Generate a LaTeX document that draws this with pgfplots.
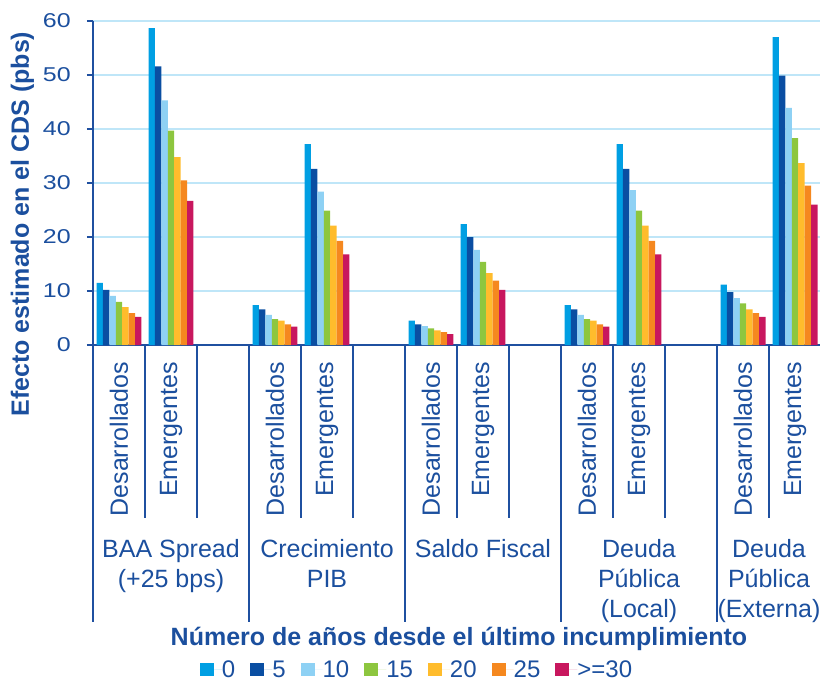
\documentclass[border=0pt]{standalone}
\usepackage{fontspec}
\setmainfont{Liberation Sans}
\newfontfamily\tickfont{Liberation Sans}[FakeStretch=1.25]
\usepackage{pgfplots}
\usepackage{pgfplotstable}
\pgfplotsset{compat=1.18}

\definecolor{cA}{HTML}{009FE3}
\definecolor{cB}{HTML}{0A4EA2}
\definecolor{cC}{HTML}{8ED1F4}
\definecolor{cD}{HTML}{8DC63F}
\definecolor{cE}{HTML}{FFBC2C}
\definecolor{cF}{HTML}{F5881F}
\definecolor{cG}{HTML}{C8175E}
\definecolor{txtblue}{HTML}{1B4F9E}
\definecolor{axblue}{HTML}{1F50A0}
\definecolor{gridblue}{HTML}{BFE6F8}

% x: 0,1 BAA | 3,4 PIB | 6,7 Saldo | 9,10 Deuda local | 12,13 Deuda externa
\pgfplotstableread{
x  s0   s5   s10  s15  s20  s25  s30
0  11.5 10.2 9.1  8.0  7.0  5.9  5.2
1  58.7 51.6 45.3 39.7 34.8 30.5 26.7
3  7.4  6.6  5.6  4.8  4.5  3.8  3.4
4  37.2 32.6 28.4 24.9 22.1 19.3 16.8
6  4.5  3.8  3.5  3.1  2.7  2.4  2.0
7  22.4 20.0 17.6 15.4 13.3 11.9 10.2
9  7.4  6.6  5.6  4.8  4.5  3.8  3.4
10 37.2 32.6 28.7 24.9 22.1 19.3 16.8
12 11.2 9.8  8.7  7.7  6.6  5.9  5.2
13 57.0 49.9 43.9 38.3 33.7 29.5 26.0
}\cdsdata

\pgfplotsset{
  cdsbar/.style={ybar, bar width=0.1236, draw=none,
    legend image code/.code={\fill[##1] (0pt,-6.5pt) rectangle (14pt,6.5pt);
      \path (0pt,0pt) -- (22pt,0pt);}},
}
\tikzset{
  catlab/.style={anchor=east, rotate=90, inner sep=0pt,
    text=txtblue, font=\fontsize{25}{30}\selectfont},
  grouplab/.style={anchor=base, inner sep=0pt, text=txtblue,
    font=\fontsize{25}{30}\selectfont},
}

\begin{document}
\begin{tikzpicture}
\path[use as bounding box] (0pt,0pt) rectangle (820pt,683pt);
\begin{axis}[
  at={(93pt,338pt)}, anchor=south west,
  scale only axis, width=728pt, height=324pt,
  xmin=-0.5, xmax=13.5, ymin=0, ymax=60,
  axis x line*=bottom, axis y line*=left,
  axis line style={color=axblue, line width=1.3pt, -},
  xtick=\empty,
  ytick={0,10,...,60},
  tick align=outside, major tick length=6pt,
  y tick style={color=axblue, line width=1.2pt},
  ymajorgrids, grid style={color=gridblue, line width=1.4pt},
  /pgf/number format/assume math mode=true,
  yticklabel style={font=\tickfont\fontsize{20}{24}\selectfont, text=txtblue,
    inner sep=0pt, anchor=east, xshift=-16pt},
  ylabel={Efecto estimado en el CDS (pbs)},
  ylabel style={at={(axis description cs:-0.0968,0.373)}, anchor=center,
    font=\bfseries\fontsize{25}{30}\selectfont, text=txtblue},
  xlabel={Número de años desde el último incumplimiento},
  xlabel style={at={(axis description cs:0.5027,-0.926)}, anchor=base,
    font=\bfseries\fontsize{25}{30}\selectfont, text=txtblue},
  legend style={at={(axis description cs:0.4437,-1.003)}, anchor=center,
    draw=none, fill=none, text=txtblue, font=\fontsize{24}{28}\selectfont,
    inner sep=0pt, nodes={inner xsep=0pt, inner ysep=1pt},
    /tikz/every even column/.append style={column sep=15pt}},
  legend columns=-1,
  clip=false,
]
\addplot[cdsbar, fill=cA, bar shift=-0.3708] table[x=x, y=s0]  {\cdsdata};
\addplot[cdsbar, fill=cB, bar shift=-0.2472] table[x=x, y=s5]  {\cdsdata};
\addplot[cdsbar, fill=cC, bar shift=-0.1236] table[x=x, y=s10] {\cdsdata};
\addplot[cdsbar, fill=cD, bar shift=0]       table[x=x, y=s15] {\cdsdata};
\addplot[cdsbar, fill=cE, bar shift=0.1236]  table[x=x, y=s20] {\cdsdata};
\addplot[cdsbar, fill=cF, bar shift=0.2472]  table[x=x, y=s25] {\cdsdata};
\addplot[cdsbar, fill=cG, bar shift=0.3708]  table[x=x, y=s30] {\cdsdata};
\legend{0,5,10,15,20,25,>=30}

% separators of the two-level category axis
\pgfplotsinvokeforeach{0.5,1.5,3.5,4.5,6.5,7.5,9.5,10.5,12.5}{
  \draw[axblue, line width=1.3pt] (axis cs:#1,0) -- ++(0pt,-173pt);}
\pgfplotsinvokeforeach{-0.5,2.5,5.5,8.5,11.5}{
  \draw[axblue, line width=1.3pt] (axis cs:#1,0) -- ++(0pt,-277pt);}

% inner category labels
\pgfplotsinvokeforeach{0,3,6,9,12}{
  \node[catlab] at ([yshift=-17pt]axis cs:#1,0) {Desarrollados};}
\pgfplotsinvokeforeach{1,4,7,10,13}{
  \node[catlab] at ([yshift=-17pt]axis cs:#1,0) {Emergentes};}

% outer category labels
\node[grouplab] at ([yshift=-212pt]axis cs:1,0) {BAA Spread};
\node[grouplab] at ([yshift=-242pt]axis cs:1,0) {(+25 bps)};
\node[grouplab] at ([yshift=-212pt]axis cs:4,0) {Crecimiento};
\node[grouplab] at ([yshift=-242pt]axis cs:4,0) {PIB};
\node[grouplab] at ([yshift=-212pt]axis cs:7,0) {Saldo Fiscal};
\node[grouplab] at ([yshift=-212pt]axis cs:10,0) {Deuda};
\node[grouplab] at ([yshift=-242pt]axis cs:10,0) {Pública};
\node[grouplab] at ([yshift=-272pt]axis cs:10,0) {(Local)};
\node[grouplab] at ([yshift=-212pt]axis cs:12.5,0) {Deuda};
\node[grouplab] at ([yshift=-242pt]axis cs:12.5,0) {Pública};
\node[grouplab] at ([yshift=-272pt]axis cs:12.5,0) {(Externa)};
\end{axis}
\end{tikzpicture}
\end{document}
